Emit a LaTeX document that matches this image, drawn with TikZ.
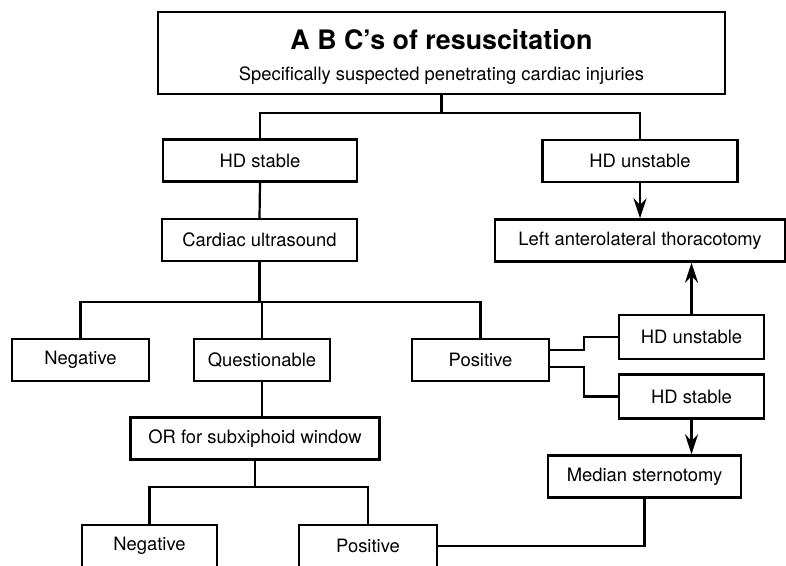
\documentclass[tikz,border=0pt]{standalone}
\usepackage{fontspec}
\setmainfont{TeX Gyre Heros}
\usetikzlibrary{arrows.meta,positioning,calc}

\begin{document}
\begin{tikzpicture}[x=1pt, y=-1pt, font=\fontsize{18.4}{21}\selectfont]
\tikzstyle{box}=[draw, line width=2.4pt, align=center, minimum height=42pt, inner sep=2pt]
\tikzstyle{link}=[line width=2.2pt]
\tikzstyle{arr}=[link, -{Stealth[length=20pt, width=13pt]}]
\useasboundingbox (0,0) rectangle (786,565);
\clip (0,0) rectangle (786,565);
% header
\node[box, minimum width=567pt, minimum height=82pt] (abc) at (441.5,53)
  {\rule{0pt}{29pt}{\fontsize{26.8}{30}\selectfont\bfseries A B C's of resuscitation}\\[10pt]
   Specifically suspected penetrating cardiac injuries};
% first split
\node[box, minimum width=194pt] (hds) at (260,160.5) {HD stable};
\node[box, minimum width=195pt] (hdu) at (640,161) {HD unstable};
\node[box, minimum width=290pt] (lat) at (640,240.5) {Left anterolateral thoracotomy};
\node[box, minimum width=195pt] (us) at (259.5,240) {Cardiac ultrasound};
% ultrasound results
\node[box, minimum width=137pt] (neg) at (80.5,360) {Negative};
\node[box, minimum width=136pt] (qst) at (262,360) {Questionable};
\node[box, minimum width=137pt] (pos) at (480.5,360) {Positive};
\node[box, minimum width=145pt, minimum height=44pt] (hdu2) at (691.5,337) {HD unstable};
\node[box, minimum width=145pt, minimum height=44pt] (hds2) at (691.5,396.5) {HD stable};
\node[box, minimum width=193pt] (ms) at (644.5,476.5) {Median sternotomy};
% subxiphoid window
\node[box, minimum width=249pt] (orw) at (255,438.5) {OR for subxiphoid window};
\node[box, minimum width=135pt] (neg2) at (149.5,546) {Negative};
\node[box, minimum width=138pt] (pos2) at (368,546) {Positive};

\draw[link] (abc.south) -- ++(0,18) -| (hds.north);
\draw[link] (abc.south) -- ++(0,18) -| (hdu.north);
\draw[arr] (hdu.south) -- (lat.north);
\draw[link] (hds.south) -- (us.north);
\draw[link] (us.south) -- ++(0,40) -| (neg.north);
\draw[link] (us.south) -- ++(0,40) -| (qst.north);
\draw[link] (us.south) -- ++(0,40) -| (pos.north);
\draw[link] ([yshift=10pt]pos.east) -- ++(34,0) |- (hdu2.west);
\draw[link] ([yshift=-7pt]pos.east) -- ++(34,0) |- (hds2.west);
\draw[arr] (hdu2.north) -- (hdu2.north |- lat.south);
\draw[arr] (hds2.south) -- (hds2.south |- ms.north);
\draw[link] (qst.south) -- (qst.south |- orw.north);
\draw[link] (orw.south) -- ++(0,26) -| (neg2.north);
\draw[link] (orw.south) -- ++(0,26) -| (pos2.north);
\draw[link] (ms.south) |- (pos2.east);
\end{tikzpicture}
\end{document}
